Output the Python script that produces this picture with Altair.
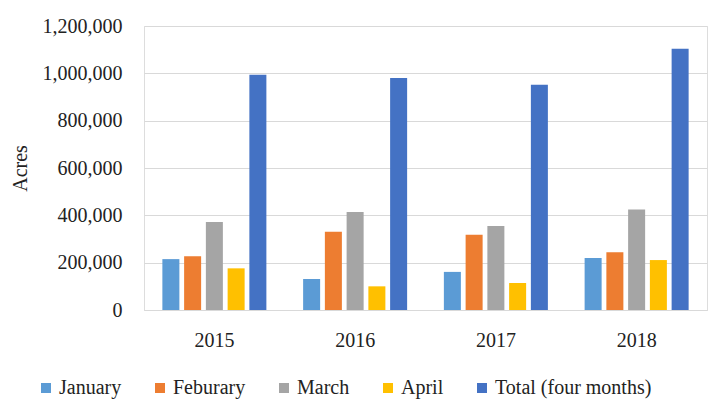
import altair as alt
import pandas as pd

years = ["2015", "2016", "2017", "2018"]
series = ["January", "Feburary", "March", "April", "Total (four months)"]
january = [215000, 131000, 161000, 220000]
feburary = [227000, 331000, 318000, 244000]
march = [372000, 414000, 355000, 425000]
april = [176000, 100000, 114000, 211000]
total = [994000, 980000, 952000, 1104000]
colors = ["#5b9bd5", "#ed7d31", "#a5a5a5", "#ffc000", "#4472c4"]

rows = []
for name, vals in zip(series, [january, feburary, march, april, total]):
    for y, v in zip(years, vals):
        rows.append({"Year": y, "Series": name, "Acres": v})
df = pd.DataFrame(rows)

FONT = "Liberation Serif"
TXT = "#222222"

chart = alt.Chart(df).mark_bar().encode(
    x=alt.X("Year:N", sort=years,
            scale=alt.Scale(paddingInner=0.261, paddingOuter=0.1305),
            axis=alt.Axis(title=None, labelAngle=0, ticks=False, tickSize=0,
                          labelPadding=20, domain=True, domainColor="#d9d9d9",
                          labelFont=FONT, labelFontSize=20, labelColor=TXT)),
    xOffset=alt.XOffset("Series:N", sort=series,
                        scale=alt.Scale(paddingInner=0.218, paddingOuter=0)),
    y=alt.Y("Acres:Q",
            scale=alt.Scale(domain=[0, 1200000], nice=False),
            axis=alt.Axis(title="Acres", values=[0, 200000, 400000, 600000, 800000, 1000000, 1200000],
                          format=",d", ticks=False, tickSize=0, domain=False,
                          labelPadding=22, gridColor="#d9d9d9", gridWidth=1,
                          labelFont=FONT, labelFontSize=20, labelColor=TXT,
                          titleFont=FONT, titleFontSize=20, titleFontWeight="normal",
                          titleColor=TXT, titlePadding=12)),
    color=alt.Color("Series:N", sort=series,
                    scale=alt.Scale(domain=series, range=colors),
                    legend=alt.Legend(title=None, orient="none", legendX=-108, legendY=352,
                                      direction="horizontal", columns=5,
                                      symbolType="square", symbolSize=100,
                                      symbolStrokeWidth=0, symbolOffset=0,
                                      labelOffset=3, columnPadding=28,
                                      labelFont=FONT, labelFontSize=20, labelColor=TXT,
                                      labelLimit=300)),
).properties(
    width=563, height=284,
    autosize=alt.AutoSizeParams(type="none"),
    padding={"left": 136, "top": 18, "right": 8, "bottom": 94},
).configure_view(stroke=None).configure(
    background="white", font=FONT
).configure_legend(labelFont=FONT, labelFontSize=20, labelColor=TXT)

chart.save("out.html", embed_options={"renderer": "svg", "actions": False})
